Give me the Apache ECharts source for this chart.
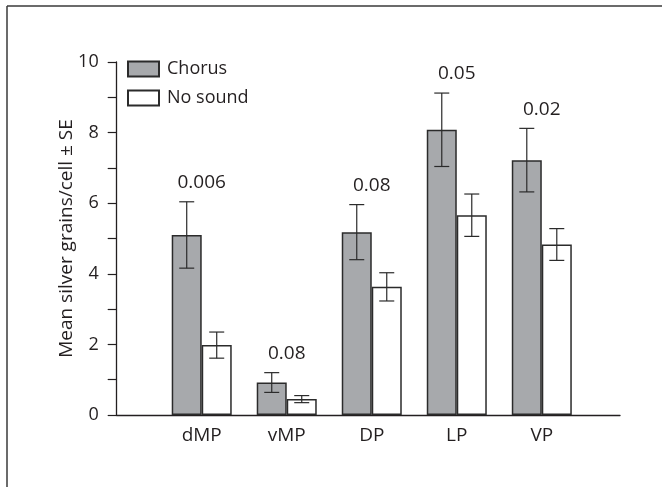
<!DOCTYPE html>
<html><head><meta charset="utf-8">
<script src="https://cdn.jsdelivr.net/npm/echarts@6/dist/echarts.min.js"></script>
<style>html,body{margin:0;padding:0;background:#fff}#c{width:662px;height:487px}</style>
</head><body><div id="c"></div>
<script>
const categories = ['dMP', 'vMP', 'DP', 'LP', 'VP'];
const chorusMean = [5.10, 0.92, 5.18, 8.08, 7.22];
const chorusSE   = [0.94, 0.28, 0.78, 1.04, 0.90];
const silentMean = [1.98, 0.45, 3.63, 5.66, 4.83];
const silentSE   = [0.37, 0.10, 0.40, 0.60, 0.45];
const pValues    = ['0.006', '0.08', '0.08', '0.05', '0.02'];
const yTickLabels = [0, 2, 4, 6, 8, 10];
const seriesNames = ['Chorus', 'No sound'];

const FONT = 'Open Sans';
const INK = '#231f20';
const BAR_W = 30;

const chart = echarts.init(document.getElementById('c'), null, {renderer: 'canvas'});

const xPos = categories.map((c, i) => i + 1);

const errData = [];
categories.forEach((c, i) => {
  errData.push([xPos[i], chorusMean[i], chorusSE[i], -1]);
  errData.push([xPos[i], silentMean[i], silentSE[i], 1]);
});

const pData = categories.map((c, i) => [xPos[i], chorusMean[i] + chorusSE[i], pValues[i]]);

chart.setOption({
  animation: false,
  backgroundColor: '#fff',
  textStyle: {fontFamily: FONT, color: INK},
  grid: {left: 116.7, right: 42, top: 62, bottom: 72, containLabel: false},
  graphic: [
    {type: 'line', shape: {x1: 7, y1: 6, x2: 7, y2: 487}, style: {stroke: '#3a3a3a', lineWidth: 1.5}},
    {type: 'line', shape: {x1: 7, y1: 6, x2: 662, y2: 6}, style: {stroke: '#3a3a3a', lineWidth: 1.5}}
  ],
  legend: {
    orient: 'vertical', left: 122, top: 55,
    itemWidth: 31, itemHeight: 15, itemGap: 11,
    icon: 'rect',
    data: seriesNames,
    textStyle: {fontFamily: FONT, fontSize: 18, color: INK, padding: [0, 0, 0, 3]}
  },
  xAxis: {
    type: 'value', min: 0, max: 5.92,
    axisLine: {show: true, lineStyle: {color: INK, width: 1.3}},
    axisTick: {show: false},
    splitLine: {show: false},
    axisLabel: {
      customValues: xPos,
      formatter: v => categories[Math.round(v) - 1] || '',
      fontFamily: FONT, fontSize: 19, color: INK, margin: 11
    }
  },
  yAxis: {
    type: 'value', min: 0, max: 10, interval: 1,
    name: 'Mean silver grains/cell ± SE',
    nameLocation: 'middle', nameGap: 41, nameMoveOverlap: false,
    nameTextStyle: {fontFamily: FONT, fontSize: 19, color: INK},
    axisLine: {show: true, lineStyle: {color: INK, width: 1.3}},
    axisTick: {show: true, length: 9, lineStyle: {color: INK, width: 1.2}},
    splitLine: {show: false},
    axisLabel: {
      formatter: v => yTickLabels.includes(v) ? String(v) : '',
      fontFamily: FONT, fontSize: 18, color: INK, margin: 18
    }
  },
  series: [
    {
      name: seriesNames[0], type: 'bar', barWidth: BAR_W, barGap: '0%',
      data: categories.map((c, i) => [xPos[i], chorusMean[i]]),
      itemStyle: {color: '#a7a9ac', borderColor: '#2b2b2b', borderWidth: 1.5}
    },
    {
      name: seriesNames[1], type: 'bar', barWidth: BAR_W, barGap: '0%',
      data: categories.map((c, i) => [xPos[i], silentMean[i]]),
      itemStyle: {color: '#ffffff', borderColor: '#2b2b2b', borderWidth: 1.5}
    },
    {
      type: 'custom', name: 'err', silent: true, z: 5,
      data: errData,
      encode: {x: 0, y: 1},
      renderItem: (params, api) => {
        const x = api.value(0), m = api.value(1), se = api.value(2), side = api.value(3);
        const top = api.coord([x, m + se]);
        const bot = api.coord([x, m - se]);
        const cx = top[0] + side * BAR_W / 2;
        const cap = 7.5;
        const st = {stroke: '#2b2b2b', lineWidth: 1.2};
        return {type: 'group', children: [
          {type: 'line', shape: {x1: cx, y1: top[1], x2: cx, y2: bot[1]}, style: st},
          {type: 'line', shape: {x1: cx - cap, y1: top[1], x2: cx + cap, y2: top[1]}, style: st},
          {type: 'line', shape: {x1: cx - cap, y1: bot[1], x2: cx + cap, y2: bot[1]}, style: st}
        ]};
      }
    },
    {
      type: 'custom', name: 'p', silent: true, z: 6,
      data: pData,
      encode: {x: 0, y: 1},
      renderItem: (params, api) => {
        const pt = api.coord([api.value(0), api.value(1)]);
        return {type: 'text', x: pt[0], y: pt[1] - 19, style: {
          text: pValues[params.dataIndex], fontFamily: FONT, fontSize: 19, fill: INK,
          align: 'center', verticalAlign: 'middle'
        }};
      }
    }
  ]
});
</script>
</body></html>
